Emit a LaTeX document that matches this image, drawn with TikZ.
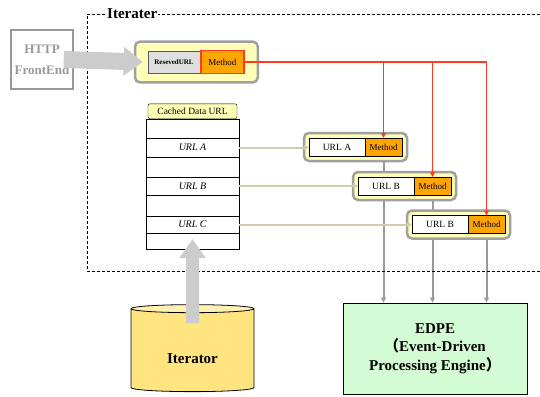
\documentclass[tikz,border=0pt]{standalone}
\usepackage{fontspec}
\setmainfont{Liberation Serif}
\newfontfamily\cjk{Noto Sans CJK SC}
\usetikzlibrary{positioning,fit,backgrounds,shapes.geometric,arrows.meta}
\definecolor{groupfill}{HTML}{FFFFB8}
\definecolor{groupline}{HTML}{A0A0A0}
\definecolor{methodfill}{HTML}{FFA500}
\definecolor{redline}{HTML}{FF3A1E}
\definecolor{tanline}{HTML}{D2CBAE}
\definecolor{edpefill}{HTML}{D4FCD4}
\definecolor{cylbody}{HTML}{FFE480}
\definecolor{cyltop}{HTML}{FFF0B4}
\definecolor{bigarrow}{HTML}{CCCCCC}
\begin{document}
\begin{tikzpicture}[x=1pt, y=-1pt, >={Triangle[length=5pt, width=5pt]},
        urlbox/.style={draw=black, fill=white, line width=0.8pt, outer sep=0pt, minimum width=56pt, minimum height=18pt, inner sep=0pt, font=\fontsize{9.5}{11}\selectfont},
        methodbox/.style={draw=black, fill=methodfill, line width=0.8pt, outer sep=0pt, minimum width=37pt, minimum height=18pt, inner sep=0pt, anchor=west, font=\fontsize{9}{11}\selectfont},
        groupbox/.style={draw=groupline, fill=groupfill, line width=2.5pt, rounded corners=5pt, inner sep=5pt},
        tabrow/.style={draw=black, fill=white, line width=0.8pt, outer sep=0pt, minimum width=93pt, inner sep=0pt, anchor=north west, font=\fontsize{10}{12}\selectfont\itshape},
        feed/.style={->, draw=tanline, line width=2pt},
        toedpe/.style={->, draw=gray!80, line width=2pt},
        call/.style={->, draw=redline, line width=1.4pt}]
        \useasboundingbox (0,0) rectangle (540,396);

        \path[draw=black, dash pattern=on 3pt off 2pt, line width=0.8pt] (540,14) -- (87,14) -- (87,271) -- (540,271);
        \node[fill=white, inner sep=1pt, anchor=west, font=\fontsize{15}{18}\selectfont\bfseries] (title) at (106,14) {Iterater};

        \node[draw=gray!80, line width=1.5pt, minimum width=62pt, minimum height=59pt, text=gray!80, font=\fontsize{13}{21}\selectfont\bfseries] (http) at (42,59.5) {\raisebox{-5pt}{\begin{tabular}{@{}c@{}}HTTP\\FrontEnd\end{tabular}}};

        \node[draw=gray!70!black, fill=gray!25, outer sep=0pt, minimum width=52pt, minimum height=22pt, inner sep=0pt, font=\fontsize{7}{8}\selectfont\bfseries] (rurl) at (174,62) {ResevedURL};
        \node[draw=redline, line width=1.8pt, fill=methodfill, minimum width=43pt, minimum height=23pt, inner sep=0pt, anchor=west, font=\fontsize{9}{11}\selectfont] (rmethod) at (rurl.east) {Method};

        \node[urlbox, anchor=west] (uA) at (309,147) {URL A};
        \node[methodbox] (mA) at (uA.east) {Method};
        \node[urlbox, anchor=west] (uB) at (358,186) {URL B};
        \node[methodbox] (mB) at (uB.east) {Method};
        \node[urlbox, anchor=west] (uC) at (412,224.5) {URL B};
        \node[methodbox] (mC) at (uC.east) {Method};

        \node[draw=black, fill=groupfill, rounded corners=2pt, minimum width=89pt, minimum height=15pt, inner sep=0pt, anchor=south, font=\fontsize{9.5}{11}\selectfont] (cachehead) at (192.5,119) {Cached Data URL};
        \foreach \nm/\top/\h/\txt in {row1/119/19/, rowA/138/19/URL A, row3/157/20/, rowB/177/18/URL B, row5/195/21/, rowC/216/17/URL C, row7/233/16/}
            \node[tabrow, minimum height=\h*1pt] (\nm) at (146,\top) {\txt};

        \node[cylinder, shape border rotate=90, aspect=0.14, draw=black, line width=0.8pt, cylinder uses custom fill, cylinder body fill=cylbody, cylinder end fill=cyltop, minimum width=123pt, minimum height=87pt, text height=26pt, font=\fontsize{15}{18}\selectfont\bfseries] (iterator) at (192.5,351) {Iterator};

        \node[draw=black, line width=1pt, fill=edpefill, minimum width=184pt, minimum height=91pt, align=center, font=\fontsize{15}{18.5}\selectfont\bfseries] (edpe) at (435,348.5) {EDPE\\{\cjk （}Event-Driven\\Processing Engine{\cjk ）}};

        \begin{pgfonlayer}{background}
            \path[toedpe] (mA.south) -- (mA.south |- edpe.north);
            \path[toedpe] (mB.south) -- (mB.south |- edpe.north);
            \path[toedpe] (mC.south) -- (mC.south |- edpe.north);
            \node[groupbox, fit=(rurl)(rmethod), inner xsep=13pt, inner ysep=8pt] (reserved) {};
            \node[groupbox, fit=(uA)(mA)] (groupA) {};
            \node[groupbox, fit=(uB)(mB)] (groupB) {};
            \node[groupbox, fit=(uC)(mC)] (groupC) {};
        \end{pgfonlayer}

        \path[feed] (rowA.east) -- (rowA.east -| uA.west);
        \path[feed] (rowB.east) -- (rowB.east -| uB.west);
        \path[feed] (rowC.east) -- (rowC.east -| uC.west);

        \path[call] (rmethod.east) -| (mC.north);
        \path[call] (rmethod.east -| mA.north) -- (mA.north);
        \path[call] (rmethod.east -| mB.north) -- (mB.north);

        \path[draw=bigarrow, line width=17pt, -{Triangle[length=19pt, width=28pt]}] ([xshift=-10pt]http.east) -- ([xshift=9pt]reserved.west);
        \path[draw=bigarrow, line width=13pt, -{Triangle[length=19pt, width=25pt]}] ([yshift=-19pt]iterator.north) -- ([yshift=10pt]row7.south);
    \end{tikzpicture}
\end{document}
